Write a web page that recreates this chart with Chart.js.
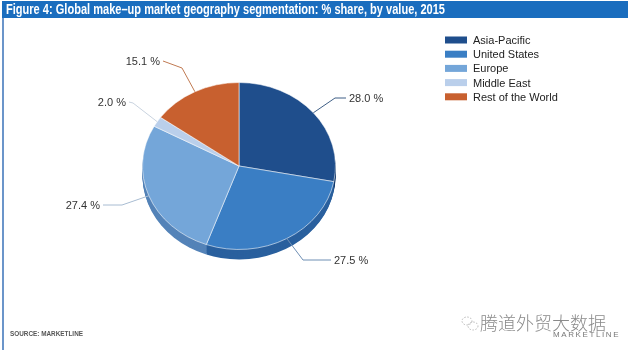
<!DOCTYPE html>
<html>
<head>
<meta charset="utf-8">
<script src="https://cdn.jsdelivr.net/npm/chart.js"></script>
<style>
  html, body { margin: 0; padding: 0; background: #fff; }
  #wrap { position: relative; width: 628px; height: 350px; overflow: hidden; }
</style>
</head>
<body>
<div id="wrap"><canvas id="myChart" width="628" height="350"></canvas></div>
<script>
const tituloFigura = 'Figure 4: Global make–up market geography segmentation: % share, by value, 2015';
const regioes = ['Asia-Pacific', 'United States', 'Europe', 'Middle East', 'Rest of the World'];
const participacao = [28.0, 27.5, 27.4, 2.0, 15.1];
const rotulos = ['28.0 %', '27.5 %', '27.4 %', '2.0 %', '15.1 %'];
const textoFonte = 'SOURCE: MARKETLINE';
const marcaDagua = '腾道外贸大数据';
const marcaDaguaSub = 'MARKETLINE';

const cores = ['#1F4E8C', '#3A7EC4', '#74A6D9', '#BACFEB', '#C8602F'];
const coresLateral = ['#163B6B', '#2A609E', '#5483B8', '#97AFD0', '#9C4A22'];
const coresGuia = ['#3F5F86', '#6F8FB4', '#A8BCD2', '#C9D3DF', '#C07A52'];

// cotovelo e ponta de cada linha guia (posicao dos rotulos)
const guias = [
  { cotovelo: [335, 98], ponta: [346, 98], lado: 'left' },
  { cotovelo: [303, 260], ponta: [331, 260], lado: 'left' },
  { cotovelo: [122, 205], ponta: [103, 205], lado: 'right' },
  { cotovelo: [133, 103], ponta: [129, 102], lado: 'right' },
  { cotovelo: [182, 68], ponta: [163, 61], lado: 'right' }
];

const kY = 0.865;
const profundidade = 11.5;

const pizza3d = {
  id: 'pizza3d',
  beforeDatasetsDraw(chart) {
    const ctx = chart.ctx;
    const arcos = chart.getDatasetMeta(0).data;
    const cx = arcos[0].x, cy = arcos[0].y;
    ctx.save();
    ctx.translate(cx, cy);
    ctx.scale(1, kY);
    ctx.translate(-cx, -cy);
    for (let d = profundidade; d >= 1; d -= 1) {
      arcos.forEach((a, i) => {
        ctx.beginPath();
        ctx.moveTo(a.x, a.y + d);
        ctx.arc(a.x, a.y + d, a.outerRadius, a.startAngle, a.endAngle);
        ctx.closePath();
        ctx.fillStyle = coresLateral[i];
        ctx.fill();
      });
    }
  },
  afterDatasetsDraw(chart) {
    chart.ctx.restore();
  }
};

const anotacoes = {
  id: 'anotacoes',
  afterDraw(chart) {
    const ctx = chart.ctx;
    ctx.save();

    // barra do titulo
    ctx.fillStyle = '#1A6DBE';
    ctx.fillRect(2, 1, 626, 17);
    ctx.fillStyle = '#fff';
    ctx.font = 'bold 15px "Liberation Sans Narrow", "Liberation Sans", Arial';
    ctx.textBaseline = 'middle';
    ctx.textAlign = 'left';
    ctx.fillText(tituloFigura, 6, 10, 439);

    // borda esquerda
    ctx.strokeStyle = '#3A72B8';
    ctx.lineWidth = 1.5;
    ctx.beginPath();
    ctx.moveTo(3, 18);
    ctx.lineTo(3, 350);
    ctx.stroke();

    // legenda
    ctx.font = '11px "Liberation Sans", Arial';
    regioes.forEach((r, i) => {
      const y = 40 + i * 14.2;
      ctx.fillStyle = cores[i];
      ctx.fillRect(445, y - 3.5, 22, 7);
      ctx.fillStyle = '#222';
      ctx.fillText(r, 473, y + 1);
    });

    // rotulos com linhas guia
    const arcos = chart.getDatasetMeta(0).data;
    arcos.forEach((a, i) => {
      const meio = (a.startAngle + a.endAngle) / 2;
      const px = a.x + a.outerRadius * Math.cos(meio);
      const py = a.y + a.outerRadius * Math.sin(meio) * kY;
      const g = guias[i];
      ctx.strokeStyle = coresGuia[i];
      ctx.lineWidth = 1;
      ctx.beginPath();
      ctx.moveTo(px, py);
      ctx.lineTo(g.cotovelo[0], g.cotovelo[1]);
      ctx.lineTo(g.ponta[0], g.ponta[1]);
      ctx.stroke();
      ctx.fillStyle = '#333';
      ctx.textAlign = g.lado;
      const tx = g.lado === 'left' ? g.ponta[0] + 3 : g.ponta[0] - 3;
      ctx.fillText(rotulos[i], tx, g.ponta[1] + 1);
    });

    // fonte
    ctx.textAlign = 'left';
    ctx.fillStyle = '#555';
    ctx.font = 'bold 7.5px "Liberation Sans", Arial';
    ctx.fillText(textoFonte, 10, 334, 73);

    // marca d'agua
    ctx.strokeStyle = '#aaa';
    ctx.lineWidth = 0.8;
    ctx.setLineDash([1.5, 1.5]);
    ctx.beginPath();
    ctx.ellipse(467, 321, 5, 4, 0, 0, Math.PI * 2);
    ctx.stroke();
    ctx.beginPath();
    ctx.ellipse(473, 326, 5, 4, 0, 0, Math.PI * 2);
    ctx.stroke();
    ctx.setLineDash([]);

    ctx.fillStyle = '#8a8a8a';
    ctx.font = '300 18px "Noto Sans CJK SC"';
    ctx.fillText(marcaDagua, 480, 323, 128);
    ctx.font = '8px "Liberation Sans", Arial';
    ctx.fillStyle = '#777';
    ctx.letterSpacing = '1.6px';
    ctx.fillText(marcaDaguaSub, 553, 335);
    ctx.letterSpacing = '0px';
    ctx.restore();
  }
};

const ctx = document.getElementById('myChart').getContext('2d');
new Chart(ctx, {
  type: 'pie',
  data: {
    labels: regioes,
    datasets: [{
      data: participacao,
      backgroundColor: cores,
      borderColor: 'rgba(255,255,255,0.6)',
      borderWidth: 1
    }]
  },
  options: {
    responsive: false,
    animation: false,
    layout: { padding: { left: 142, right: 292, top: 69, bottom: 87 } },
    plugins: { legend: { display: false }, tooltip: { enabled: false } }
  },
  plugins: [pizza3d, anotacoes]
});
</script>
</body>
</html>
